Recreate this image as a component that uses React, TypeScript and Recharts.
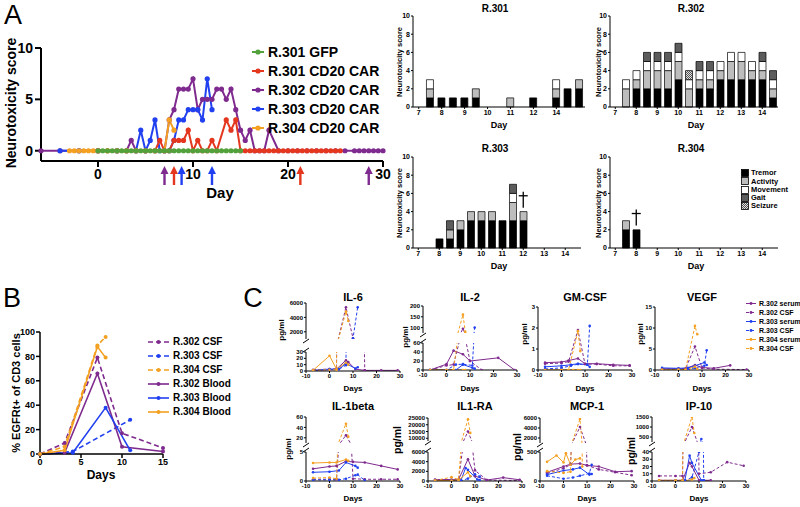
import React from 'react';
import { ComposedChart, LineChart, Line, Bar, XAxis, YAxis, ReferenceDot } from 'recharts';

type Pt = [number, number];

const PURPLE = '#7f2a8e';
const BLUE = '#2140f0';
const ORANGE = '#f4a020';
const RED = '#e4371e';
const GREEN = '#52a13b';
const FONT = '"Liberation Sans", Arial, Helvetica, sans-serif';

// ---------- Panel A: neurotoxicity score per day ----------
const SCORE_GFP: Pt[] = [
  [0, 0], [0.5, 0], [1, 0], [1.5, 0], [2, 0], [2.5, 0], [3, 0], [3.5, 0], [4, 0], [4.5, 0], [5, 0],
  [5.5, 0], [6, 0], [6.5, 0], [7, 0], [7.5, 0], [8, 0], [8.5, 0], [9, 0], [9.5, 0], [10, 0], [10.5, 0],
  [11, 0], [11.5, 0], [12, 0], [12.5, 0], [13, 0], [13.5, 0], [14, 0], [14.5, 0], [15, 0],
];
const SCORE_301: Pt[] = [
  [0, 0], [1, 0], [2, 0], [3, 0], [4, 0], [5, 0], [6, 0], [6.5, 1], [7, 0], [7.5, 0], [8, 1], [8.5, 1],
  [9, 1], [9.5, 2], [10, 0], [10.5, 1], [11, 0], [11.5, 0], [12, 1], [12.5, 0], [13.5, 3], [14, 2],
  [14.5, 3], [15, 0], [15.5, 0], [16, 0], [16.5, 0], [17, 0], [17.5, 0], [18, 0], [18.5, 0], [19, 0],
  [19.5, 0], [20, 0], [20.5, 0], [21, 0], [21.5, 0], [22, 0], [22.5, 0], [23, 0], [23.5, 0], [24, 0],
  [24.5, 0], [25, 0], [25.5, 0],
];
const SCORE_302: Pt[] = [
  [-6, 0], [-4, 0], [-2, 0], [0, 0], [2, 0], [3, 0], [3.5, 1], [4, 0], [5, 0], [6, 0], [7, 0], [7.5, 3],
  [8, 4], [8.5, 6], [9, 6], [9.5, 6], [10, 7], [10.5, 4], [11, 5], [11.5, 5], [12, 5], [12.5, 6], [13, 6],
  [13.5, 5], [14, 6], [14.5, 4], [15, 2], [15.5, 1], [16, 2], [16.5, 0], [17, 0], [17.5, 0], [18, 2],
  [19, 0], [20, 0], [21, 0], [22, 0], [23, 0], [24, 0], [25, 0], [26, 0], [27, 0], [27.5, 0], [28, 0],
  [28.5, 0], [29, 0], [29.5, 0], [30, 0],
];
const SCORE_303: Pt[] = [
  [-4, 0], [-2, 0], [0, 0], [2, 0], [4, 0], [4.5, 2], [5, 0], [5.5, 1], [6, 3], [6.5, 0], [7, 0], [7.5, 0],
  [8, 1], [8.5, 3], [9, 3], [9.5, 4], [10, 4], [10.5, 4], [11, 3], [11.5, 7], [12, 4],
];
const SCORE_304: Pt[] = [
  [-3, 0], [-2.5, 0], [-2, 0], [-1.5, 0], [-1, 0], [-0.5, 0], [0, 0], [1, 0], [2, 0], [3, 0], [4, 0],
  [5, 0], [6, 0], [7, 0], [7.5, 3], [8, 2],
];

const A_SERIES = [
  { name: 'R.301 GFP', color: GREEN, pts: SCORE_GFP },
  { name: 'R.301 CD20 CAR', color: RED, pts: SCORE_301 },
  { name: 'R.302 CD20 CAR', color: PURPLE, pts: SCORE_302 },
  { name: 'R.303 CD20 CAR', color: BLUE, pts: SCORE_303 },
  { name: 'R.304 CD20 CAR', color: ORANGE, pts: SCORE_304 },
];
const A_DRAW_ORDER = [2, 3, 1, 4, 0];

const DOSE_ARROWS = [
  { day: 7, color: PURPLE },
  { day: 8, color: RED },
  { day: 8.8, color: BLUE },
  { day: 12, color: BLUE },
  { day: 21.3, color: RED },
  { day: 28.5, color: PURPLE },
];

// ---------- Panel A: score components (tremor, activity, movement, gait, seizure) ----------
const SLOTS_301 = ['7', '7.5', '8', '8.5', '9', '9.5', '10', '10.5', '11', '11.5', '12', '12.5', '13', '13.5', '14'];
const SLOTS = ['7', '7.5', '8', '8.5', '9', '9.5', '10', '10.5', '11', '11.5', '12', '12.5', '13', '13.5', '14', '14.5'];
const DAY_TICKS = ['7', '8', '9', '10', '11', '12', '13', '14'];
const DAY_TICKS_301 = ['7', '8', '9', '10', '11', '12', '13'];
const TICK_TEXT_301: Record<string, string> = { '13': '14' };

const PARTS_301: Record<string, number[]> = {
  '7.5': [1, 1, 1, 0, 0], '8': [1, 0, 0, 0, 0], '8.5': [1, 0, 0, 0, 0], '9': [1, 0, 0, 0, 0],
  '9.5': [1, 1, 0, 0, 0], '11': [0, 1, 0, 0, 0], '12': [1, 0, 0, 0, 0], '13': [1, 1, 1, 0, 0],
  '13.5': [2, 0, 0, 0, 0], '14': [2, 1, 0, 0, 0],
};
const PARTS_302: Record<string, number[]> = {
  '7.5': [0, 2, 1, 0, 0], '8': [2, 1, 1, 0, 0], '8.5': [2, 2, 1, 1, 0], '9': [2, 2, 1, 1, 0],
  '9.5': [2, 2, 1, 1, 0], '10': [3, 2, 1, 1, 0], '10.5': [0, 2, 1, 0, 1], '11': [2, 1, 1, 1, 0],
  '11.5': [2, 1, 1, 1, 0], '12': [3, 1, 1, 0, 0], '12.5': [3, 2, 1, 0, 0], '13': [3, 2, 1, 0, 0],
  '13.5': [3, 1, 1, 0, 0], '14': [3, 1, 1, 1, 0], '14.5': [1, 1, 1, 1, 0],
};
const PARTS_303: Record<string, number[]> = {
  '8': [1, 0, 0, 0, 0], '8.5': [1, 1, 0, 1, 0], '9': [2, 1, 0, 0, 0], '9.5': [3, 1, 0, 0, 0],
  '10': [3, 1, 0, 0, 0], '10.5': [3, 1, 0, 0, 0], '11': [3, 0, 0, 0, 0], '11.5': [3, 2, 1, 1, 0],
  '12': [3, 1, 0, 0, 0],
};
const PARTS_304: Record<string, number[]> = {
  '7.5': [2, 1, 0, 0, 0], '8': [2, 0, 0, 0, 0],
};
const DEATH_303 = { day: '12', y: 5.3 };
const DEATH_304 = { day: '8', y: 3.35 };

const PARTS = [
  { key: 'tremor', name: 'Tremor', fill: '#000' },
  { key: 'activity', name: 'Activity', fill: '#bdbdbd' },
  { key: 'movement', name: 'Movement', fill: '#fff' },
  { key: 'gait', name: 'Gait', fill: '#5c5c5c' },
  { key: 'seizure', name: 'Seizure', fill: 'url(#seizure)' },
];

// ---------- Panel B: % EGFRt+ of CD3 cells ----------
const EGFR_302_CSF: Pt[] = [[0, 0], [3, 9], [7, 79], [10, 17], [15, 5]];
const EGFR_303_CSF: Pt[] = [[0, 0], [4, 2], [11, 28]];
const EGFR_304_CSF: Pt[] = [[0, 0], [3, 6], [7, 89], [8, 96]];
const EGFR_302_BLOOD: Pt[] = [[0, 0], [3, 1], [7, 66], [10, 6], [15, 2]];
const EGFR_303_BLOOD: Pt[] = [[0, 0], [4, 1], [8, 38], [11, 3]];
const EGFR_304_BLOOD: Pt[] = [[0, 0], [3, 3], [7, 88], [8, 79]];

const B_SERIES = [
  { name: 'R.302 CSF', color: PURPLE, dash: true, pts: EGFR_302_CSF },
  { name: 'R.303 CSF', color: BLUE, dash: true, pts: EGFR_303_CSF },
  { name: 'R.304 CSF', color: ORANGE, dash: true, pts: EGFR_304_CSF },
  { name: 'R.302 Blood', color: PURPLE, dash: false, pts: EGFR_302_BLOOD },
  { name: 'R.303 Blood', color: BLUE, dash: false, pts: EGFR_303_BLOOD },
  { name: 'R.304 Blood', color: ORANGE, dash: false, pts: EGFR_304_BLOOD },
];

// ---------- Panel C: cytokines, pg/ml. order: 302 serum, 302 CSF, 303 serum, 303 CSF, 304 serum, 304 CSF ----------
const C_SERIES = [
  { name: 'R.302 serum', color: PURPLE, dash: false },
  { name: 'R.302 CSF', color: PURPLE, dash: true },
  { name: 'R.303 serum', color: BLUE, dash: false },
  { name: 'R.303 CSF', color: BLUE, dash: true },
  { name: 'R.304 serum', color: ORANGE, dash: false },
  { name: 'R.304 CSF', color: ORANGE, dash: true },
];

const IL6: Pt[][] = [
  [[-7, 1], [0, 2], [3, 3], [7, 17], [8, 14], [11, 3], [15, 1], [22, 1], [29, 1]],
  [[-7, 2], [0, 3], [3, 3], [7, 5400], [10, 1100], [15, 1]],
  [[-7, 1], [0, 3], [4, 3], [7, 12], [11, 4], [12, 6]],
  [[0, 2], [4, 3], [7, 9], [10, 1100], [12, 5400]],
  [[-7, 1], [0, 24], [3, 3], [7, 13], [8, 10]],
  [[-7, 1], [0, 2], [3, 2], [7, 4800], [8, 3500]],
];
const IL2: Pt[][] = [
  [[-7, 0], [0, 13], [3, 43], [7, 35], [10, 20], [22, 27], [29, 0]],
  [[-7, 0], [0, 10], [3, 12], [7, 95], [10, 20], [15, 0]],
  [[-7, 0], [0, 0], [4, 0], [7, 12], [11, 5], [12, 3]],
  [[-7, 0], [0, 0], [4, 12], [7, 13], [11, 10], [12, 100]],
  [[-7, 0], [0, 0], [3, 0], [7, 0], [8, 0]],
  [[-7, 0], [0, 0], [3, 0], [7, 160], [8, 80]],
];
const GMCSF: Pt[][] = [
  [[-7, 0.35], [0, 0.38], [3, 0.45], [7, 0.55], [10, 0.3], [15, 0.3], [22, 0.25], [29, 0.22]],
  [[-7, 0.3], [0, 0.33], [3, 0.4], [7, 1.9], [10, 0.28], [15, 0.28], [22, 0.2], [29, 0.2]],
  [[-7, 0.15], [0, 0.2], [4, 0.25], [7, 0.3], [11, 0.25], [12, 0.15]],
  [[-7, 0.05], [0, 0.1], [4, 0.2], [7, 0.28], [11, 0.25], [12, 2.1]],
  [[-7, 0], [0, 0], [3, 0], [5, 0], [7, 0], [8, 0]],
  [[-7, 0], [0, 0], [3, 0], [7, 1.85], [8, 0.9]],
];
const VEGF: Pt[][] = [
  [[-7, 0.3], [0, 0.3], [3, 0.3], [7, 1.2], [10, 0.6], [15, 0.4], [22, 1.1]],
  [[-7, 0.2], [0, 0.2], [3, 0.3], [7, 5.6], [10, 0.5], [15, 0.2], [29, 0.1]],
  [[-7, 0.5], [0, 0.4], [4, 0.5], [7, 1.0], [11, 1.8], [12, 1.2]],
  [[-7, 0.1], [0, 0.1], [4, 0.2], [7, 0.5], [11, 1.0], [12, 4.7]],
  [[-7, 0], [0, 0], [3, 0], [7, 0.8], [8, 0.3]],
  [[-7, 0.1], [0, 0.1], [3, 0.1], [7, 10.5], [8, 8.5]],
];
const IL1B: Pt[][] = [
  [[-7, 2.1], [0, 2.5], [3, 2.6], [7, 3.4], [10, 3.3], [15, 3.2], [22, 2.6], [29, 2.0]],
  [[-7, 0.3], [0, 0.3], [3, 0.3], [7, 25], [10, 0.4], [15, 0.3], [22, 0.3], [29, 0.3]],
  [[-7, 1.5], [0, 1.6], [4, 1.8], [7, 3.2], [11, 2.6], [12, 2.3]],
  [[-7, 0.2], [0, 0.2], [4, 0.2], [7, 0.4], [11, 1.0], [12, 1.1], [15, 0.1]],
  [[-7, 3.1], [0, 3.2], [3, 3.2], [7, 3.7], [8, 3.5]],
  [[-7, 0.5], [0, 0.6], [3, 0.4], [7, 47], [8, 22]],
];
const IL1RA: Pt[][] = [
  [[-7, 300], [0, 300], [3, 300], [7, 4500], [10, 1000], [15, 200], [22, 700], [29, 250]],
  [[-7, 200], [0, 200], [3, 200], [7, 15000], [10, 2200], [15, 200], [29, 100]],
  [[-7, 100], [0, 100], [4, 100], [6, 2700], [7, 2300], [11, 300], [12, 200]],
  [[-7, 50], [0, 50], [4, 50], [7, 500], [10, 1400], [12, 900]],
  [[-7, 100], [0, 100], [3, 200], [7, 1800], [8, 1000]],
  [[-7, 100], [0, 800], [3, 300], [7, 24000], [8, 14000]],
];
const MCP1: Pt[][] = [
  [[-7, 150], [0, 250], [3, 290], [7, 300], [10, 270], [15, 250], [22, 160], [29, 170]],
  [[-7, 130], [0, 220], [3, 280], [7, 4200], [10, 270], [15, 200], [22, 150], [29, 100]],
  [[-7, 110], [0, 180], [4, 200], [7, 230], [11, 110], [12, 120]],
  [[-7, 90], [0, 40], [4, 60], [7, 90], [11, 130], [12, 280]],
  [[-7, 330], [-3, 440], [0, 320], [1, 480], [3, 280], [5, 370], [7, 390]],
  [[-7, 170], [0, 140], [3, 160], [7, 5800], [8, 250]],
];
const IP10: Pt[][] = [
  [[-7, 1], [0, 1], [3, 1], [6, 25], [7, 20], [10, 1], [15, 1]],
  [[-7, 7], [0, 7], [3, 7], [7, 1000], [10, 10], [15, 12], [22, 26], [29, 21]],
  [[-7, 0], [0, 0], [4, 1], [6, 35], [7, 25], [11, 1], [12, 1]],
  [[-7, 0], [0, 0], [4, 0], [7, 5], [10, 40], [11, 400], [12, 1]],
  [[-7, 0], [0, 0], [3, 0], [7, 2], [8, 4]],
  [[-7, 1], [0, 1], [3, 1], [7, 1500], [8, 700]],
];

const toXY = (pts: Pt[]) => pts.map(([x, y]) => ({ x, y }));

// ---------- small helpers ----------
const Txt = ({ x, y, size, bold = true, rotate = false, children }: any) => (
  <div
    style={{
      position: 'absolute', left: x, top: y, fontSize: size, fontWeight: bold ? 700 : 400,
      lineHeight: 1, whiteSpace: 'nowrap',
      transform: `translate(-50%, -50%)${rotate ? ' rotate(-90deg)' : ''}`,
    }}
  >
    {children}
  </div>
);

const ROW = { position: 'absolute', display: 'flex', alignItems: 'center', fontWeight: 700, lineHeight: 1, whiteSpace: 'nowrap', transform: 'translateY(-50%)' } as const;

const Arrow = ({ cx, cy, color }: any) => (
  <g fill={color} stroke="none">
    <polygon points={`${cx},${cy + 5} ${cx - 4},${cy + 13} ${cx + 4},${cy + 13}`} />
    <rect x={cx - 1.2} y={cy + 12} width={2.4} height={12} />
  </g>
);

const Dagger = ({ cx, cy }: any) => (
  <g stroke="#000" strokeWidth={1.3}>
    <line x1={cx} y1={cy - 8} x2={cx} y2={cy + 8} />
    <line x1={cx - 4.5} y1={cy - 4} x2={cx + 4.5} y2={cy - 4} />
  </g>
);

const SeizureDefs = () => (
  <defs>
    <pattern id="seizure" width="2" height="2" patternUnits="userSpaceOnUse">
      <rect width="2" height="2" fill="#e0e0e0" />
      <rect width="1" height="1" fill="#555" />
      <rect x="1" y="1" width="1" height="1" fill="#555" />
    </pattern>
  </defs>
);

// ---------- Panel A line chart ----------
const A_TICK = { fontSize: 14, fontWeight: 700, fill: '#000' };
const A_AXIS = { stroke: '#000', strokeWidth: 2 };

function NeuroLines() {
  return (
    <div style={{ position: 'absolute', left: 0, top: 0 }}>
      <ComposedChart width={400} height={230} margin={{ top: 48, right: 17, bottom: 29, left: 11 }}>
        <XAxis type="number" dataKey="x" domain={[-6, 30]} ticks={[0, 10, 20, 30]} height={40}
          tick={A_TICK} tickSize={6} axisLine={A_AXIS} tickLine={A_AXIS} />
        <YAxis type="number" domain={[-1, 10]} ticks={[0, 5, 10]} width={30}
          tick={A_TICK} tickSize={6} axisLine={A_AXIS} tickLine={A_AXIS} />
        {A_DRAW_ORDER.map((i) => {
          const s = A_SERIES[i];
          return (
            <Line key={s.name} data={toXY(s.pts)} dataKey="y" stroke={s.color} strokeWidth={2}
              dot={{ r: 2.6, fill: s.color, stroke: s.color, strokeWidth: 0 }} isAnimationActive={false} />
          );
        })}
        {DOSE_ARROWS.map((a, i) => (
          <ReferenceDot key={i} x={a.day} y={-1} r={3}
            shape={(p: any) => <Arrow cx={p.cx} cy={p.cy} color={a.color} />} />
        ))}
      </ComposedChart>
    </div>
  );
}

function NeuroLegend() {
  return (
    <>
      {A_SERIES.map((s, i) => (
        <div key={s.name} style={{ ...ROW, left: 252, top: 52 + i * 19, fontSize: 14 }}>
          <svg width={13} height={8} style={{ marginRight: 3 }}>
            <line x1={0} y1={4} x2={12} y2={4} stroke={s.color} strokeWidth={2} />
            <circle cx={6} cy={4} r={2.6} fill={s.color} />
          </svg>
          {s.name}
        </div>
      ))}
    </>
  );
}

// ---------- Panel A stacked bars ----------
const BAR_TICK = { fontSize: 7, fontWeight: 700, fill: '#000' };
const BAR_AXIS = { stroke: '#000', strokeWidth: 1 };

function BarPanel({ slots, parts, ticks, tickText, axisX, plotTop, plotW, death }: any) {
  const rows = slots.map((d: string) => {
    const s = parts[d] || [0, 0, 0, 0, 0];
    const r: any = { day: d };
    PARTS.forEach((p, i) => { r[p.key] = s[i]; });
    return r;
  });
  return (
    <div style={{ position: 'absolute', left: axisX - 16, top: plotTop - 4 }}>
      <ComposedChart width={16 + plotW + 4} height={111} data={rows} margin={{ top: 4, right: 4, bottom: 2, left: 0 }} barSize={7}>
        <SeizureDefs />
        <XAxis dataKey="day" type="category" ticks={ticks} interval={0} height={14}
          tickFormatter={(v: string) => (tickText && tickText[v]) || v}
          tick={BAR_TICK} tickSize={2} tickMargin={1} axisLine={BAR_AXIS} tickLine={BAR_AXIS} />
        <YAxis type="number" domain={[0, 10]} ticks={[0, 2, 4, 6, 8, 10]} width={16} interval={0}
          tick={BAR_TICK} tickSize={2} tickMargin={1} axisLine={BAR_AXIS} tickLine={BAR_AXIS} />
        {PARTS.map((p) => (
          <Bar key={p.key} dataKey={p.key} stackId="s" fill={p.fill} stroke="#000" strokeWidth={0.7} isAnimationActive={false} />
        ))}
        {death && (
          <ReferenceDot x={death.day} y={death.y} r={3} shape={(p: any) => <Dagger cx={p.cx} cy={p.cy} />} />
        )}
      </ComposedChart>
    </div>
  );
}

function PartsLegend() {
  return (
    <>
      {PARTS.map((p, i) => (
        <div key={p.key} style={{ ...ROW, left: 741, top: 173 + i * 8.3, fontSize: 7.5 }}>
          <svg width={8} height={8} style={{ marginRight: 2 }}>
            <defs>
              <pattern id="seizureLegend" width="2" height="2" patternUnits="userSpaceOnUse">
                <rect width="2" height="2" fill="#e0e0e0" />
                <rect width="1" height="1" fill="#555" />
                <rect x="1" y="1" width="1" height="1" fill="#555" />
              </pattern>
            </defs>
            <rect x={0.5} y={0.5} width={7} height={7} fill={p.key === 'seizure' ? 'url(#seizureLegend)' : p.fill} stroke="#000" strokeWidth={0.8} />
          </svg>
          {p.name}
        </div>
      ))}
    </>
  );
}

// ---------- Panel B ----------
const B_TICK = { fontSize: 9, fontWeight: 700, fill: '#000' };
const B_AXIS = { stroke: '#000', strokeWidth: 1.5 };

function EgfrChart() {
  return (
    <div style={{ position: 'absolute', left: 0, top: 300 }}>
      <LineChart width={200} height={190} margin={{ top: 32, right: 37, bottom: 16, left: 12 }}>
        <XAxis type="number" dataKey="x" domain={[0, 15]} ticks={[0, 5, 10, 15]} height={20}
          tick={B_TICK} tickSize={4} tickMargin={1} axisLine={B_AXIS} tickLine={B_AXIS} />
        <YAxis type="number" domain={[0, 100]} ticks={[0, 20, 40, 60, 80, 100]} width={28} interval={0}
          tick={B_TICK} tickSize={4} tickMargin={1} axisLine={B_AXIS} tickLine={B_AXIS} />
        {B_SERIES.map((s) => (
          <Line key={s.name} data={toXY(s.pts)} dataKey="y" stroke={s.color} strokeWidth={1.6}
            strokeDasharray={s.dash ? '5 3' : undefined}
            dot={{ r: 2, fill: s.color, stroke: 'none' }} isAnimationActive={false} />
        ))}
      </LineChart>
    </div>
  );
}

function EgfrLegend() {
  return (
    <>
      {B_SERIES.map((s, i) => (
        <div key={s.name} style={{ ...ROW, left: 148, top: 342 + i * 14, fontSize: 10 }}>
          <svg width={21} height={6} style={{ marginRight: 4 }}>
            <line x1={0} y1={3} x2={21} y2={3} stroke={s.color} strokeWidth={1.6} strokeDasharray={s.dash ? '5 3' : undefined} />
            <circle cx={10.5} cy={3} r={2} fill={s.color} />
          </svg>
          {s.name}
        </div>
      ))}
    </>
  );
}

// ---------- Panel C ----------
const C_TICK = { fontSize: 6, fontWeight: 700, fill: '#000' };
const C_AXIS = { stroke: '#000', strokeWidth: 1 };
const SEG_YW = 22;
const SEG_W = 94;

function Segment({ axisX, top, bottom, domain, ticks, withX, data }: any) {
  const xh = withX ? 11 : 0;
  return (
    <div style={{ position: 'absolute', left: axisX - SEG_YW, top: top - 4 }}>
      <LineChart width={SEG_YW + SEG_W + 4} height={bottom - top + 4 + xh + 2} margin={{ top: 4, right: 4, bottom: 2, left: 0 }}>
        <XAxis type="number" dataKey="x" domain={[-10, 30]} ticks={[-10, 0, 10, 20, 30]} allowDataOverflow
          hide={!withX} height={xh} tick={C_TICK} tickSize={2} tickMargin={1} axisLine={C_AXIS} tickLine={C_AXIS} />
        <YAxis type="number" domain={domain} ticks={ticks} allowDataOverflow width={SEG_YW} interval={0}
          tick={C_TICK} tickSize={2} tickMargin={1} axisLine={C_AXIS} tickLine={C_AXIS} />
        {data.map((pts: Pt[], i: number) => (
          <Line key={i} data={toXY(pts)} dataKey="y" stroke={C_SERIES[i].color} strokeWidth={1}
            strokeDasharray={C_SERIES[i].dash ? '3 2' : undefined}
            dot={{ r: 1.3, fill: C_SERIES[i].color, stroke: 'none' }} isAnimationActive={false} />
        ))}
      </LineChart>
    </div>
  );
}

const BreakMark = ({ x, y }: any) => (
  <svg style={{ position: 'absolute', left: x - 4, top: y - 3 }} width={8} height={6}>
    <line x1={1} y1={5} x2={7} y2={1} stroke="#000" strokeWidth={1} />
  </svg>
);

const CYTO_PANELS = [
  { title: 'IL-6', data: IL6, axisX: 306, row: 0, unitX: 282, unitY: 330, unitSize: 8,
    upper: { top: 303, bottom: 339, domain: [1000, 6000], ticks: [2000, 4000, 6000] },
    lower: { top: 352, bottom: 371, domain: [0, 30], ticks: [0, 10, 20, 30] } },
  { title: 'IL-2', data: IL2, axisX: 423, row: 0, unitX: 406, unitY: 337, unitSize: 8,
    upper: { top: 306, bottom: 333, domain: [75, 200], ticks: [100, 150, 200] },
    lower: { top: 343, bottom: 370, domain: [0, 60], ticks: [0, 20, 40, 60] } },
  { title: 'GM-CSF', data: GMCSF, axisX: 538, row: 0, unitX: 525, unitY: 334, unitSize: 8,
    lower: { top: 307, bottom: 370, domain: [0, 3], ticks: [0, 1, 2, 3] } },
  { title: 'VEGF', data: VEGF, axisX: 655, row: 0, unitX: 641, unitY: 334, unitSize: 8,
    lower: { top: 307, bottom: 370, domain: [0, 15], ticks: [0, 5, 10, 15] } },
  { title: 'IL-1beta', data: IL1B, axisX: 306, row: 1, unitX: 289, unitY: 449, unitSize: 8,
    upper: { top: 417, bottom: 443, domain: [10, 60], ticks: [20, 40, 60] },
    lower: { top: 452, bottom: 481, domain: [0, 5], ticks: [0, 5] } },
  { title: 'IL1-RA', data: IL1RA, axisX: 428, row: 1, unitX: 397, unitY: 440, unitSize: 10.5,
    upper: { top: 418, bottom: 441, domain: [8000, 25000], ticks: [10000, 15000, 20000, 25000] },
    lower: { top: 452, bottom: 481, domain: [0, 6000], ticks: [0, 2000, 4000, 6000] } },
  { title: 'MCP-1', data: MCP1, axisX: 540, row: 1, unitX: 517, unitY: 447, unitSize: 10.5,
    upper: { top: 418, bottom: 443, domain: [1000, 6000], ticks: [2000, 4000, 6000] },
    lower: { top: 452, bottom: 481, domain: [0, 500], ticks: [0, 500] } },
  { title: 'IP-10', data: IP10, axisX: 652, row: 1, unitX: 631, unitY: 451, unitSize: 10.5,
    upper: { top: 417, bottom: 442, domain: [250, 1500], ticks: [500, 1000, 1500] },
    lower: { top: 452, bottom: 481, domain: [0, 40], ticks: [0, 10, 20, 30, 40] } },
];

function CytoPanel({ p }: any) {
  const titleY = p.row === 0 ? 297 : 406;
  const daysY = p.row === 0 ? 389 : 499;
  return (
    <>
      {p.upper && <Segment axisX={p.axisX} {...p.upper} withX={false} data={p.data} />}
      <Segment axisX={p.axisX} {...p.lower} withX data={p.data} />
      {p.upper && <BreakMark x={p.axisX} y={p.upper.bottom + 2} />}
      {p.upper && <BreakMark x={p.axisX} y={p.lower.top - 2} />}
      <Txt x={p.axisX + SEG_W / 2} y={titleY} size={11}>{p.title}</Txt>
      <Txt x={p.axisX + SEG_W / 2} y={daysY} size={8}>Days</Txt>
      <Txt x={p.unitX} y={p.unitY} size={p.unitSize} rotate>pg/ml</Txt>
    </>
  );
}

function CytoLegend() {
  return (
    <>
      {C_SERIES.map((s, i) => (
        <div key={s.name} style={{ ...ROW, left: 746, top: 303 + i * 9, fontSize: 7 }}>
          <svg width={10} height={4} style={{ marginRight: 3 }}>
            <line x1={0} y1={2} x2={10} y2={2} stroke={s.color} strokeWidth={1} strokeDasharray={s.dash ? '3 2' : undefined} />
            <circle cx={5} cy={2} r={1.4} fill={s.color} />
          </svg>
          {s.name}
        </div>
      ))}
    </>
  );
}

export default function App() {
  return (
    <div style={{ position: 'absolute', left: 0, top: 0, width: 800, height: 507, background: '#fff', color: '#000', fontFamily: FONT, overflow: 'hidden' }}>
      {/* A */}
      <Txt x={13} y={15} size={27} bold={false}>A</Txt>
      <NeuroLines />
      <NeuroLegend />
      <Txt x={11} y={103} size={14} rotate>Neurotoxicity score</Txt>
      <Txt x={220} y={192} size={15}>Day</Txt>

      <BarPanel slots={SLOTS_301} parts={PARTS_301} ticks={DAY_TICKS_301} tickText={TICK_TEXT_301} axisX={413} plotTop={16} plotW={172} />
      <BarPanel slots={SLOTS} parts={PARTS_302} ticks={DAY_TICKS} axisX={610} plotTop={16} plotW={168} />
      <BarPanel slots={SLOTS} parts={PARTS_303} ticks={DAY_TICKS} axisX={413} plotTop={157} plotW={168} death={DEATH_303} />
      <BarPanel slots={SLOTS} parts={PARTS_304} ticks={DAY_TICKS} axisX={610} plotTop={157} plotW={168} death={DEATH_304} />
      <PartsLegend />
      <Txt x={495} y={9} size={10}>R.301</Txt>
      <Txt x={691} y={9} size={10}>R.302</Txt>
      <Txt x={495} y={149} size={10}>R.303</Txt>
      <Txt x={691} y={149} size={10}>R.304</Txt>
      <Txt x={499} y={125} size={9}>Day</Txt>
      <Txt x={696} y={125} size={9}>Day</Txt>
      <Txt x={499} y={266} size={9}>Day</Txt>
      <Txt x={696} y={266} size={9}>Day</Txt>
      <Txt x={400} y={62} size={7.5} rotate>Neurotoxicity score</Txt>
      <Txt x={599} y={62} size={7.5} rotate>Neurotoxicity score</Txt>
      <Txt x={400} y={203} size={7.5} rotate>Neurotoxicity score</Txt>
      <Txt x={599} y={203} size={7.5} rotate>Neurotoxicity score</Txt>

      {/* B */}
      <Txt x={12} y={298} size={27} bold={false}>B</Txt>
      <EgfrChart />
      <EgfrLegend />
      <Txt x={16} y={393} size={11} rotate>% EGFRt+ of CD3 cells</Txt>
      <Txt x={101} y={475} size={12}>Days</Txt>

      {/* C */}
      <Txt x={253} y={298} size={27} bold={false}>C</Txt>
      {CYTO_PANELS.map((p) => <CytoPanel key={p.title} p={p} />)}
      <CytoLegend />
    </div>
  );
}
